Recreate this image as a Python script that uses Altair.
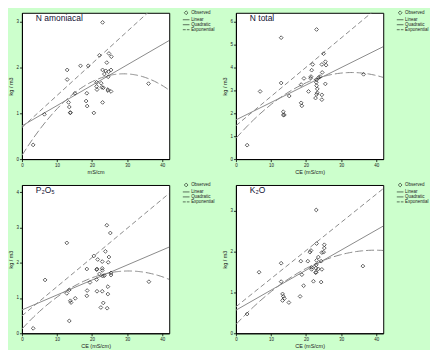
import altair as alt
import pandas as pd

SERIES = ["Observed", "Linear", "Quadratic", "Exponential"]
SHAPES = ["M0,-0.85L0.85,0L0,0.85L-0.85,0Z", "M-1.5,0L1.5,0", "M-1.5,0L1.5,0",
          "M-1.5,0L-0.2,0M0.3,0L1.5,0"]
X_TICKS = [0, 10, 20, 30, 40]
X_MAX = 42

# N amoniacal
NA_CE = [23.0, 22.1, 24.8, 25.5, 12.9, 12.9, 16.7, 18.9, 24.2, 23.0, 23.9, 24.7, 25.4,
         23.5, 24.6, 21.3, 22.6, 21.3, 22.8, 23.2, 21.4, 24.5, 24.5, 25.4, 15.1, 18.5,
         18.3, 13.3, 18.6, 13.5, 23.0, 13.8, 13.8, 20.5, 6.4, 36.1, 3.2]
NA_KG = [2.99, 2.27, 2.31, 2.24, 1.95, 1.74, 2.04, 2.04, 2.11, 1.95, 1.93, 1.91, 1.95,
         1.86, 1.80, 1.68, 1.66, 1.59, 1.57, 1.56, 1.52, 1.52, 1.50, 1.48, 1.44, 1.44,
         1.27, 1.24, 1.16, 1.14, 1.24, 1.02, 1.01, 1.01, 0.98, 1.65, 0.31]

# N total
NT_CE = [23.0, 12.9, 25.0, 21.9, 24.5, 25.5, 25.7, 21.6, 19.4, 21.3, 21.4, 24.6, 23.6,
         24.0, 23.0, 22.9, 23.0, 23.2, 23.2, 23.0, 12.9, 18.6, 25.5, 20.7, 24.5, 24.5,
         22.7, 15.2, 6.9, 18.6, 18.8, 13.5, 13.8, 13.5, 36.4, 3.2]
NT_KG = [5.67, 5.31, 4.61, 4.14, 4.14, 4.26, 4.11, 3.89, 3.53, 3.54, 3.61, 3.79, 3.57,
         3.61, 3.47, 3.36, 3.21, 3.07, 2.90, 2.83, 3.33, 3.26, 3.29, 2.96, 2.81, 2.60,
         2.67, 2.76, 2.96, 2.46, 2.33, 2.07, 1.93, 1.93, 3.71, 0.61]

# P2O5
P_CE = [24.2, 25.2, 12.8, 20.5, 23.8, 21.6, 24.8, 22.9, 24.6, 18.5, 21.4, 22.9, 22.9,
        22.1, 21.3, 23.0, 23.5, 25.4, 25.4, 21.3, 19.4, 6.6, 24.5, 18.6, 21.4, 22.9,
        18.5, 24.5, 12.8, 13.5, 13.8, 14.0, 15.2, 23.2, 22.5, 24.3, 13.5, 3.2, 36.2]
P_KG = [3.06, 2.84, 2.56, 2.19, 2.32, 2.09, 2.16, 2.03, 2.01, 1.82, 1.82, 1.84, 1.78,
        1.68, 1.80, 1.62, 1.63, 1.71, 1.65, 1.52, 1.44, 1.51, 1.32, 1.21, 1.19, 1.19,
        1.06, 1.11, 1.13, 1.23, 0.92, 0.87, 0.99, 0.86, 0.73, 0.71, 0.35, 0.14, 1.46]

# K2O
K_CE = [22.9, 23.0, 25.2, 25.2, 25.0, 24.5, 21.4, 21.1, 23.5, 24.3, 23.0, 18.5, 20.5,
        12.9, 22.9, 21.6, 22.8, 23.5, 24.5, 21.6, 22.9, 22.7, 18.8, 6.6, 36.2, 12.9,
        22.1, 24.3, 19.3, 13.3, 13.5, 13.8, 13.3, 15.1, 18.3, 3.2]
K_KG = [3.01, 2.19, 2.16, 2.08, 1.98, 1.97, 2.02, 1.98, 1.86, 1.76, 1.78, 1.76, 1.76,
        1.71, 1.67, 1.61, 1.59, 1.57, 1.56, 1.56, 1.49, 1.48, 1.43, 1.49, 1.64, 1.26,
        1.27, 1.25, 1.16, 0.96, 0.90, 0.85, 0.80, 0.75, 0.90, 0.47]

FONT = "Liberation Sans"
LINE_COLOR = "#8a8a8a"


def panel(ce, kg, name, xtitle, ymax, yticks, height):
    df = pd.DataFrame({"CE": ce, "kg": kg, "serie": ["Observed"] * len(ce)})
    base = alt.Chart(df)
    xenc = alt.X("CE:Q", scale=alt.Scale(domain=[0, X_MAX], nice=False, zero=False),
                 axis=alt.Axis(values=X_TICKS, title=xtitle))
    yenc = alt.Y("kg:Q", scale=alt.Scale(domain=[0, ymax], nice=False),
                 axis=alt.Axis(values=yticks, title="kg / m3"))
    pts = base.mark_point(filled=False, size=20, strokeWidth=1, color="#1e1e1e").encode(
        x=xenc, y=yenc,
        shape=alt.Shape("serie:N", scale=alt.Scale(domain=SERIES, range=SHAPES),
                        legend=alt.Legend(title=None, orient="none", legendX=162, legendY=-3,
                                          labelFontSize=4.5, labelFont=FONT, symbolSize=20,
                                          rowPadding=-1.5, padding=0, labelOffset=2,
                                          symbolStrokeColor="black", symbolStrokeWidth=0.8,
                                          labelColor="#222222")))
    lin = base.transform_regression("CE", "kg", method="linear", extent=[0, X_MAX]).mark_line(
        clip=True, color=LINE_COLOR, strokeWidth=1).encode(x=xenc, y=yenc)
    quad = base.transform_regression("CE", "kg", method="poly", order=2, extent=[0, X_MAX]).mark_line(
        clip=True, color=LINE_COLOR, strokeWidth=1, strokeDash=[8, 3]).encode(x=xenc, y=yenc)
    # exponential model y = a*exp(b*x), fitted on ln(y)
    expo = base.transform_calculate(lk="log(datum.kg)").transform_regression(
        "CE", "lk", method="linear", extent=[0, X_MAX]).transform_calculate(
        kg="exp(datum.lk)").mark_line(
        clip=True, color=LINE_COLOR, strokeWidth=1, strokeDash=[5, 3]).encode(x=xenc, y=yenc)
    return alt.layer(lin, quad, expo, pts).properties(
        width=148, height=height,
        title=alt.TitleParams(name, anchor="start", orient="top", frame="group", offset=-20,
                              dx=14, fontSize=8.5, font=FONT, fontWeight="normal",
                              color="#111133", baseline="alphabetic"))


p1 = panel(NA_CE, NA_KG, "N amoniacal", "mS/cm", 3.2, [0, 1, 2, 3], 147)
p2 = panel(NT_CE, NT_KG, "N total", "CE (mS/cm)", 6.4, [0, 1, 2, 3, 4, 5, 6], 147)
p3 = panel(P_CE, P_KG, "P₂O₅", "CE (mS/cm)", 4.2, [0, 1, 2, 3, 4], 149)
p4 = panel(K_CE, K_KG, "K₂O", "CE (mS/cm)", 3.62, [0, 1, 2, 3], 149)

chart = alt.concat(p1, p2, p3, p4, columns=2,
                   spacing=alt.RowColnumber(row=26, column=67), bounds="flush").resolve_scale(
    shape="independent").resolve_legend(shape="independent").configure(
    background="#ccffcc", padding=0).configure_view(
    fill="white", stroke="black", strokeWidth=1).configure_axis(
    domainColor="black", tickColor="black", tickSize=2.5, labelFontSize=4.5,
    titleFontSize=5.5, titleFontWeight="normal", labelFont=FONT, titleFont=FONT,
    grid=False, labelPadding=1, titlePadding=2, labelFlush=False, labelColor="#222222",
    titleColor="#222222", domainWidth=1, tickWidth=0.8)

chart.save("out.html", embed_options={"renderer": "svg", "actions": False})
